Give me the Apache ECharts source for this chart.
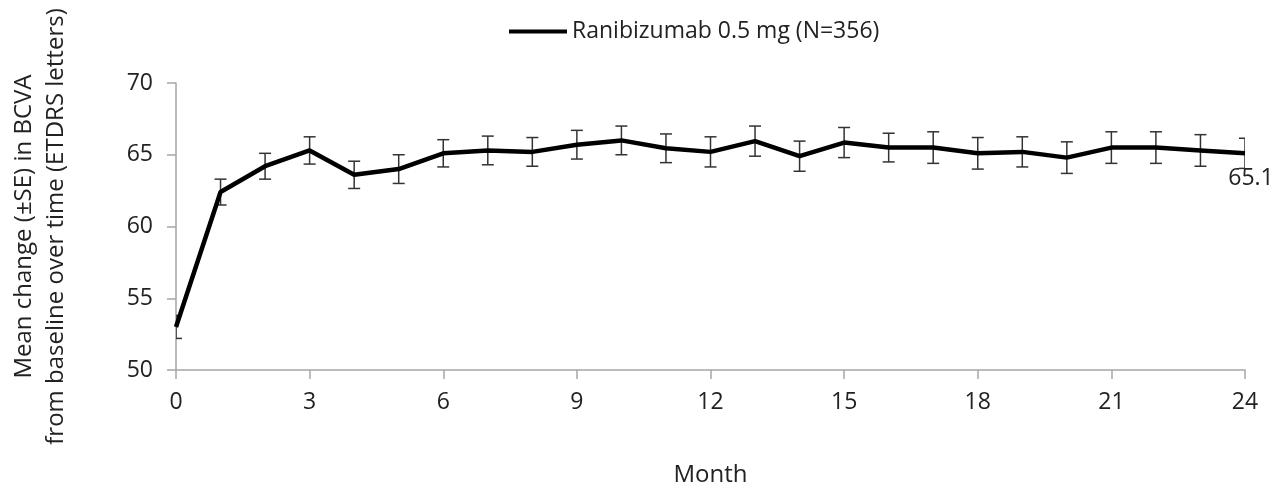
<!DOCTYPE html>
<html>
<head>
<meta charset="utf-8">
<script src="https://cdn.jsdelivr.net/npm/echarts@6/dist/echarts.min.js"></script>
<style>
html,body{margin:0;padding:0;background:#fff;}
#chart{width:1277px;height:485px;}
</style>
</head>
<body>
<div id="chart"></div>
<script>
var months = [0,1,2,3,4,5,6,7,8,9,10,11,12,13,14,15,16,17,18,19,20,21,22,23,24];
var meanBCVA = [53.0, 62.4, 64.2, 65.3, 63.6, 64.0, 65.1, 65.3, 65.2, 65.7, 66.0, 65.45, 65.2, 65.95, 64.9, 65.85, 65.5, 65.5, 65.1, 65.2, 64.8, 65.5, 65.5, 65.3, 65.1];
var seBCVA = [0.8, 0.9, 0.9, 0.95, 0.95, 1.0, 0.95, 1.0, 1.0, 1.0, 1.0, 1.0, 1.05, 1.05, 1.05, 1.05, 1.0, 1.1, 1.1, 1.05, 1.1, 1.1, 1.1, 1.1, 1.05];
var seriesName = 'Ranibizumab 0.5 mg (N=356)';
var xTicks = [0,3,6,9,12,15,18,21,24];
var yTicks = [50,55,60,65,70];
var xAxisTitle = 'Month';
var yAxisTitle = 'Mean change (\u00b1SE) in BCVA\nfrom baseline over time (ETDRS letters)';

var FONT = '"Open Sans", sans-serif';
var lastIdx = months.length - 1;

var lineData = months.map(function (m, i) {
  var item = { value: [m, meanBCVA[i]] };
  if (i === lastIdx) {
    item.label = { show: true };
  }
  return item;
});
var errData = months.map(function (m, i) {
  return [m, meanBCVA[i] - seBCVA[i], meanBCVA[i] + seBCVA[i]];
});

var chart = echarts.init(document.getElementById('chart'), null, { renderer: 'canvas' });
chart.setOption({
  animation: false,
  backgroundColor: '#ffffff',
  textStyle: { fontFamily: FONT },
  legend: {
    data: [seriesName],
    top: 15,
    left: 504,
    icon: 'rect',
    itemWidth: 58,
    itemHeight: 4,
    textStyle: { fontFamily: FONT, fontSize: 23, color: '#222' }
  },
  grid: { left: 176, right: 32, top: 83, bottom: 115, containLabel: false, outerBoundsMode: 'none' },
  xAxis: {
    type: 'value',
    min: 0, max: 24, interval: 3,
    name: xAxisTitle,
    nameLocation: 'middle',
    nameGap: 93,
    nameTextStyle: { fontFamily: FONT, fontSize: 24, color: '#222' },
    axisLine: { show: true, lineStyle: { color: '#a6a6a6', width: 1.5 } },
    axisTick: { show: true, length: 9, lineStyle: { color: '#a6a6a6', width: 1.5 } },
    axisLabel: { fontFamily: FONT, fontSize: 23, color: '#222', margin: 21 },
    splitLine: { show: false }
  },
  yAxis: {
    type: 'value',
    min: 50, max: 70, interval: 5,
    name: yAxisTitle,
    nameLocation: 'middle',
    nameRotate: 90,
    nameGap: 104,
    nameTextStyle: { fontFamily: FONT, fontSize: 24, color: '#222', lineHeight: 32, align: 'center' },
    axisLine: { show: true, lineStyle: { color: '#a6a6a6', width: 1.5 } },
    axisTick: { show: true, length: 9, lineStyle: { color: '#a6a6a6', width: 1.5 } },
    axisLabel: { fontFamily: FONT, fontSize: 23, color: '#222', margin: 23 },
    splitLine: { show: false }
  },
  series: [
    {
      name: seriesName,
      type: 'line',
      data: lineData,
      showSymbol: true,
      symbol: 'circle',
      symbolSize: 0.01,
      lineStyle: { color: '#000', width: 4.5 },
      itemStyle: { color: '#000' },
      label: {
        show: false,
        position: 'bottom',
        distance: 14,
        offset: [6, 0],
        fontFamily: FONT,
        fontSize: 23,
        color: '#222',
        formatter: function (p) { return p.value[1].toFixed(1); }
      },
      z: 3
    },
    {
      name: 'SE',
      type: 'custom',
      clip: true,
      data: errData,
      z: 2,
      renderItem: function (params, api) {
        var x = api.value(0);
        var lo = api.coord([x, api.value(1)]);
        var hi = api.coord([x, api.value(2)]);
        var hw = 6;
        var style = { stroke: '#333', lineWidth: 1.5 };
        return {
          type: 'group',
          children: [
            { type: 'line', shape: { x1: lo[0], y1: lo[1], x2: hi[0], y2: hi[1] }, style: style },
            { type: 'line', shape: { x1: lo[0] - hw, y1: lo[1], x2: lo[0] + hw, y2: lo[1] }, style: style },
            { type: 'line', shape: { x1: hi[0] - hw, y1: hi[1], x2: hi[0] + hw, y2: hi[1] }, style: style }
          ]
        };
      }
    }
  ]
});
</script>
</body>
</html>
